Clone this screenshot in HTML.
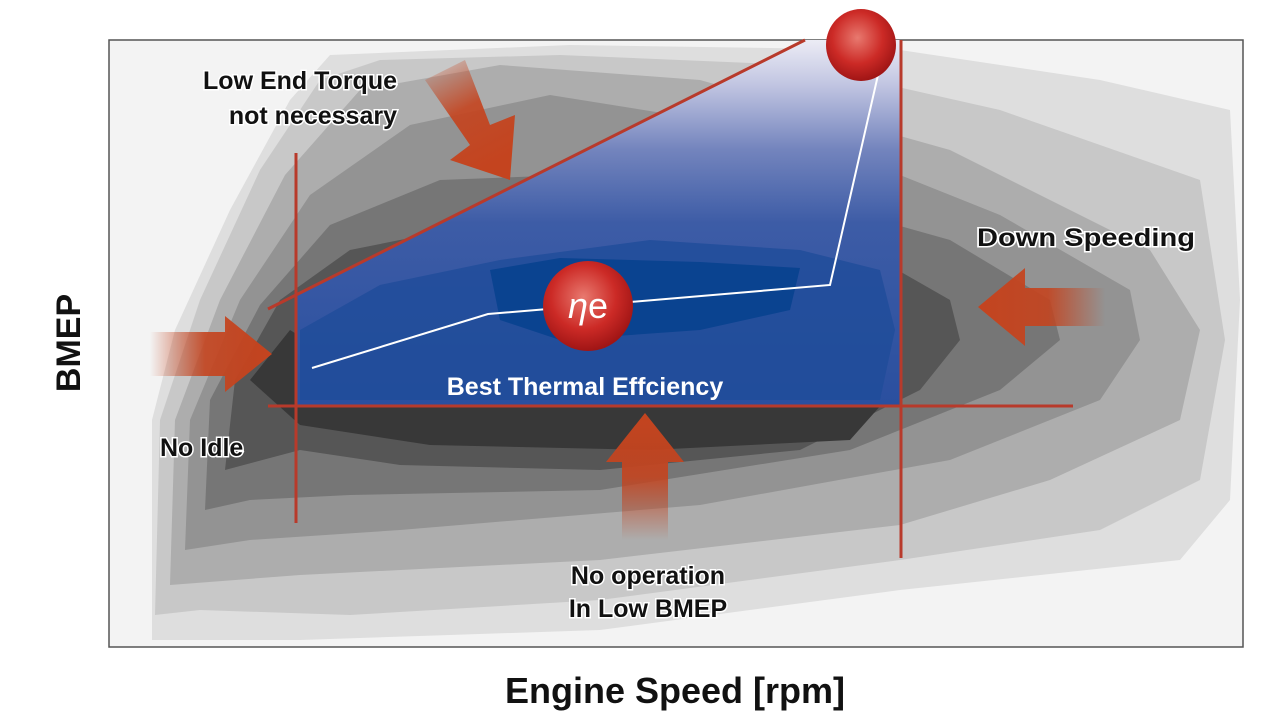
<!DOCTYPE html>
<html><head><meta charset="utf-8"><style>
html,body{margin:0;padding:0;background:#fff;width:1279px;height:726px;overflow:hidden}
svg text{font-family:"Liberation Sans",sans-serif;}
</style></head><body>
<svg width="1279" height="726" viewBox="0 0 1279 726" xmlns="http://www.w3.org/2000/svg">
<defs>
<linearGradient id="gl" x1="0" x2="1"><stop offset="0" stop-color="#c4441f" stop-opacity="0"/><stop offset="0.45" stop-color="#c4441f" stop-opacity="0.9"/><stop offset="1" stop-color="#c4441f"/></linearGradient>
<linearGradient id="gr" x1="1" x2="0"><stop offset="0" stop-color="#c4441f" stop-opacity="0"/><stop offset="0.45" stop-color="#c4441f" stop-opacity="0.9"/><stop offset="1" stop-color="#c4441f"/></linearGradient>
<linearGradient id="gu" x1="0" x2="0" y1="1" y2="0"><stop offset="0" stop-color="#c4441f" stop-opacity="0"/><stop offset="0.5" stop-color="#c4441f" stop-opacity="0.9"/><stop offset="1" stop-color="#c4441f"/></linearGradient>
<linearGradient id="gd" x1="0" y1="0" x2="0.4" y2="1"><stop offset="0" stop-color="#c4441f" stop-opacity="0"/><stop offset="0.5" stop-color="#c4441f" stop-opacity="0.9"/><stop offset="1" stop-color="#c4441f"/></linearGradient>
<linearGradient id="gb" x1="0" x2="0" y1="40" y2="406" gradientUnits="userSpaceOnUse"><stop offset="0" stop-color="#ececf5"/><stop offset="0.12" stop-color="#c2c6e2"/><stop offset="0.3" stop-color="#7384bd"/><stop offset="0.5" stop-color="#3d5ca6"/><stop offset="1" stop-color="#2a4f9f"/></linearGradient>
<radialGradient id="rb" cx="0.45" cy="0.4" r="0.6"><stop offset="0" stop-color="#e8796f"/><stop offset="0.6" stop-color="#cc2a26"/><stop offset="1" stop-color="#a01515"/></radialGradient>
<clipPath id="cb"><polygon points="296,296 805,40 901,40 901,406 296,406"/></clipPath>
</defs>
<rect x="109" y="40" width="1134" height="607" fill="#f3f3f3" stroke="#555" stroke-width="1.5"/>
<polygon fill="#dedede" points="152,640 152,420 175,330 230,210 290,100 330,55 570,45 900,50 1100,80 1230,110 1240,300 1230,500 1180,560 900,590 600,630 300,640"/>
<polygon fill="#c8c8c8" points="155,615 160,420 200,300 260,170 320,80 380,60 560,55 800,65 1000,110 1200,180 1225,340 1200,480 1100,530 900,560 600,600 350,615 200,610"/>
<polygon fill="#adadad" points="170,585 175,420 220,300 285,175 360,90 500,65 700,80 950,150 1150,250 1200,330 1180,420 1050,480 900,525 600,560 300,575"/>
<polygon fill="#939393" points="185,550 190,420 240,300 310,195 410,125 550,95 800,135 1000,215 1130,290 1140,340 1100,400 950,460 700,505 400,530 250,540"/>
<polygon fill="#767676" points="205,510 210,400 260,305 330,225 440,180 700,170 950,240 1050,300 1060,340 1000,390 850,450 600,490 350,495 250,500"/>
<polygon fill="#565656" points="225,470 235,380 280,300 350,250 450,230 700,225 880,260 950,300 960,340 920,390 800,450 600,470 400,465 300,450"/>
<polygon fill="#383838" points="250,380 290,330 330,355 500,395 700,405 890,395 850,440 650,450 430,445 300,425"/>
<g clip-path="url(#cb)">
<rect x="260" y="40" width="650" height="370" fill="url(#gb)"/>
<polygon fill="#1f4c9a" opacity="0.8" points="300,330 380,285 500,260 650,240 800,250 880,270 895,330 880,400 300,400"/>
<polygon fill="#0a4390" points="490,270 560,258 700,262 800,268 790,310 700,330 560,340 500,320"/>
</g>
<g stroke="#b83a2b" stroke-width="3" fill="none">
<line x1="296" y1="153" x2="296" y2="523"/>
<line x1="901" y1="40" x2="901" y2="558"/>
<line x1="268" y1="406" x2="1073" y2="406"/>
<line x1="268" y1="309" x2="805" y2="40"/>
</g>
<polyline points="312,368 488,314 560,308 830,285 878,75" fill="none" stroke="#fff" stroke-width="2"/>
<polygon fill="url(#gl)" points="150,332 225,332 225,316 272,354 225,392 225,376 150,376"/>
<polygon fill="url(#gr)" points="1105,288 1025,288 1025,268 978,307 1025,346 1025,326 1105,326"/>
<polygon fill="url(#gu)" points="622,540 622,462 606,462 645,413 684,462 668,462 668,540"/>
<polygon fill="url(#gd)" points="425,80 465,60 490,125 515,115 510,180 450,160 470,145"/>
<ellipse cx="861" cy="45" rx="35" ry="36" fill="url(#rb)"/>
<ellipse cx="588" cy="306" rx="45" ry="45" fill="url(#rb)"/>
<text x="588" y="318" font-size="36" fill="#fff" text-anchor="middle" font-style="italic">η<tspan font-style="normal">e</tspan></text>
<g font-size="25" font-weight="bold" fill="#111" stroke="#fff" stroke-width="3" paint-order="stroke">
<text x="397" y="89" text-anchor="end">Low End Torque</text>
<text x="397" y="124" text-anchor="end">not necessary</text>
<text x="977" y="246" textLength="218" lengthAdjust="spacingAndGlyphs">Down Speeding</text>
<text x="160" y="456">No Idle</text>
<text x="648" y="584" text-anchor="middle">No operation</text>
<text x="648" y="617" text-anchor="middle">In Low BMEP</text>
</g>
<text x="585" y="395" font-size="25" font-weight="bold" fill="#fff" text-anchor="middle">Best Thermal Effciency</text>
<text x="675" y="703" font-size="36" font-weight="bold" fill="#111" text-anchor="middle">Engine Speed [rpm]</text>
<text transform="translate(80,343) rotate(-90)" font-size="34" font-weight="bold" fill="#111" text-anchor="middle">BMEP</text>
</svg>
</body></html>
